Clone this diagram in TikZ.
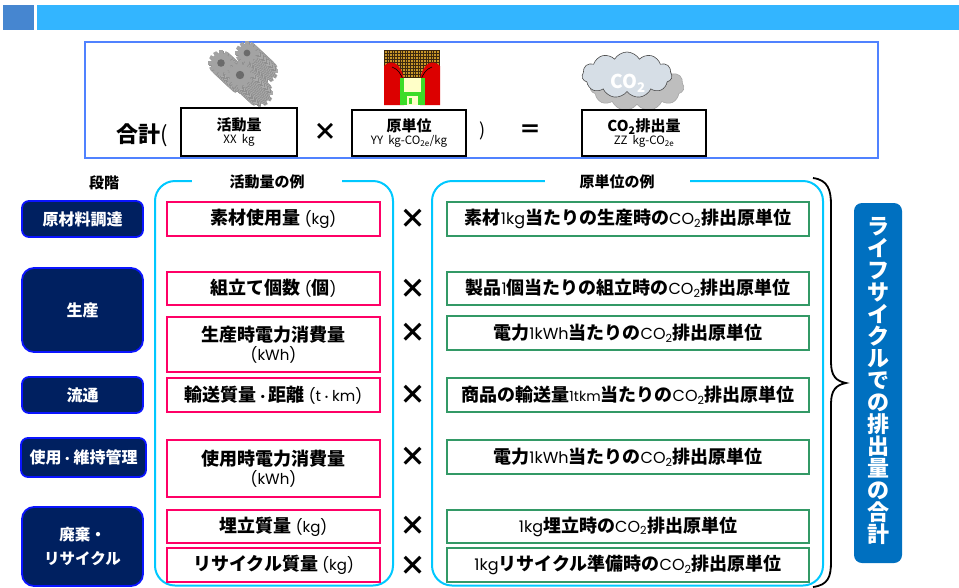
\documentclass[tikz,border=0pt]{standalone}
\usepackage{fontspec}
\setmainfont{Noto Sans CJK JP}
\newfontfamily\geo{Poppins}
\usetikzlibrary{shapes.symbols,arrows.meta}

\definecolor{barsq}{RGB}{70,134,208}
\definecolor{barlong}{RGB}{51,181,255}
\definecolor{frameblue}{RGB}{80,130,255}
\definecolor{navy}{RGB}{0,32,96}
\definecolor{stageedge}{RGB}{10,20,255}
\definecolor{pinkc}{RGB}{255,0,102}
\definecolor{greenc}{RGB}{51,153,102}
\definecolor{cyanc}{RGB}{0,200,255}
\definecolor{lifeblue}{RGB}{0,112,192}
\definecolor{diskred}{RGB}{220,0,0}
\definecolor{diskgreen}{RGB}{60,220,40}
\definecolor{diskpaper}{RGB}{255,255,200}
\definecolor{bits}{RGB}{200,150,40}
\definecolor{bitsbg}{RGB}{60,40,15}
\definecolor{cloudfront}{RGB}{214,222,230}
\definecolor{cloudback}{RGB}{190,190,190}

\newcommand{\lat}{\mdseries\geo}
\newcommand{\sz}[1]{\fontsize{#1}{#1}\selectfont}

% a gear drawn as a stack of toothed discs, giving a ridged solid look
\newcommand{\cogwheel}[3]{%
  \begin{scope}[shift={(#1,#2)}]
    \foreach \k in {26,...,1} {
      \ifodd\k\def\gcol{black!44}\else\def\gcol{black!33}\fi
      \begin{scope}[shift={(\k*0.75,\k*0.7)}]
        \fill[\gcol] (0,0) circle (#3);
        \foreach \a in {0,30,...,330}
          \fill[\gcol,rotate=\a] (-1.8,#3-1) rectangle (1.8,#3+2.6);
      \end{scope}
    }
    \fill[black!36] (0,0) circle (#3);
    \foreach \a in {0,30,...,330}
      \fill[black!36,rotate=\a] (-1.8,#3-1) rectangle (1.8,#3+2.6);
    \fill[black!58] (0,0) circle (#3*0.38);
  \end{scope}}

\begin{document}
\begin{tikzpicture}[x=1pt,y=-1pt,
  stage/.style={fill=navy, draw=stageedge, line width=1.8pt, rounded corners=7pt,
    text=white, font=\bfseries\sz{16}, align=center, inner sep=0pt},
  actbox/.style={draw=pinkc, line width=2.3pt, fill=white, minimum width=213pt,
    align=center, inner sep=0pt, font=\bfseries\sz{18}},
  unitbox/.style={draw=greenc, line width=2.3pt, fill=white, minimum width=362pt,
    inner sep=0pt, font=\bfseries\sz{18}},
  times/.style={font=\bfseries\sz{27}, inner sep=0pt},
  header/.style={fill=white, font=\bfseries\sz{15}, inner sep=0pt, minimum height=12pt},
  calcbox/.style={draw=black, line width=2pt, fill=white, align=center, inner sep=0pt},
  groupframe/.style={draw=cyanc, line width=2pt, rounded corners=20pt}
]
\useasboundingbox (0,0) rectangle (959,587);

% title bar
\fill[barsq] (3,5) rectangle (34,30);
\fill[barlong] (37,5) rectangle (959,30);

% formula panel
\draw[frameblue, line width=1.8pt] (85,42) rectangle (878,158);

% gears
\cogwheel{247}{53}{9}
\cogwheel{221}{63}{10}
\cogwheel{240}{75}{11}

% disk icon with data streaming in
\fill[bitsbg] (384,50) rectangle (440,105);
\foreach \yy in {52,55,...,82}
  \draw[bits, line width=1.2pt, dash pattern=on 1.6pt off 1pt] (385,\yy) -- (439,\yy);
\fill[diskred] (384,105) -- (384,66) .. controls (391,59) and (401,62) .. (404,80) -- (404,105) -- cycle;
\fill[diskred] (440,105) -- (440,66) .. controls (433,59) and (423,62) .. (420,80) -- (420,105) -- cycle;
\draw[line width=0.6pt, -{Stealth[length=2.5pt]}] (392,67) .. controls (398,69) and (401,74) .. (404,82);
\draw[line width=0.6pt, -{Stealth[length=2.5pt]}] (432,67) .. controls (426,69) and (423,74) .. (420,82);
\fill[diskgreen] (400,78) rectangle (425,105);
\fill[diskpaper] (404,78) rectangle (421,92);
\fill[diskpaper] (407,96) rectangle (418,105);
\fill[diskgreen] (409,97.5) rectangle (412,104);

% CO2 cloud
\node[cloud, cloud puffs=11, cloud puff arc=120, aspect=2, minimum width=94pt,
  minimum height=50pt, fill=cloudback, draw=black!35, line width=0.6pt] (cloudb) at (637,86) {};
\node[cloud, cloud puffs=11, cloud puff arc=120, aspect=2, minimum width=90pt,
  minimum height=46pt, fill=cloudfront, draw=black!70, line width=0.6pt] (cloudf) at (627,75) {};
\node[text=white, font=\bfseries\sz{19}] (co2) at (628,83) {CO\textsubscript{2}};

% formula
\node[anchor=west, inner sep=0pt] (total) at (116,135) {{\bfseries\sz{22}合計}{\sz{22}(}};
\node[calcbox, minimum width=116pt, minimum height=48pt] (act) at (239,132)
  {{\bfseries\sz{15}活動量}\\[1pt]{\sz{11.5}XX\ \ kg}};
\node[font=\bfseries\sz{24}, inner sep=0pt] (mul) at (325,132) {×};
\node[calcbox, minimum width=114pt, minimum height=46pt] (unit) at (409,133)
  {{\bfseries\sz{15}原単位}\\[1pt]{\sz{11.5}YY\ \ kg-CO\textsubscript{2e}/kg}};
\node[font=\sz{18}, inner sep=0pt] (close) at (483,131) {)};
\node[font=\bfseries\sz{22}, inner sep=0pt] (eq) at (530,131) {＝};
\node[calcbox, minimum width=124pt, minimum height=46pt] (emis) at (644,133)
  {{\bfseries\sz{15}CO\textsubscript{2}排出量}\\[1pt]{\sz{11.5}ZZ\ \ kg-CO\textsubscript{2e}}};

% group frames
\draw[groupframe] (155,181) rectangle (393,585.5);
\draw[groupframe] (432,181) rectangle (823,585.5);
\node[font=\bfseries\sz{15}, inner sep=0pt] (hstage) at (104,183) {段階};
\node[header, minimum width=150pt] (hact) at (267,182) {活動量の例};
\node[header, minimum width=145pt] (hunit) at (617,182) {原単位の例};

% brace gathering all stages
\draw[line width=1.8pt] (813,178) .. controls (828,180) and (831,190) .. (831,205)
  -- (831,362) .. controls (831,376) and (836,381) .. (846,383)
  .. controls (836,385) and (831,390) .. (831,404)
  -- (831,562) .. controls (831,577) and (828,585) .. (813,587);

% life-cycle total
\node[fill=lifeblue, rounded corners=8pt, minimum width=48pt, minimum height=360pt,
  inner sep=0pt] (life) at (878,383) {};
\node[text=white, font=\bfseries\sz{22}, align=center, inner sep=0pt] (lifetext) at (878,380.5)
  {\fontsize{22}{24.4}\selectfont ラ\\イ\\フ\\サ\\イ\\ク\\ル\\で\\の\\排\\出\\量\\の\\合\\計};

% stages
\node[stage, minimum width=121pt, minimum height=36pt] (s1) at (82.5,219) {原材料調達};
\node[stage, rounded corners=12pt, minimum width=121pt, minimum height=84pt] (s2) at (82.5,310) {生産};
\node[stage, minimum width=121pt, minimum height=36pt] (s3) at (82.5,395) {流通};
\node[stage, minimum width=125pt, minimum height=39pt] (s4) at (83.5,457.5) {使用{\sz{12}・}維持管理};
\node[stage, rounded corners=12pt, minimum width=121pt, minimum height=79pt, font=\bfseries\sz{15.5}] (s5) at (82.5,546.5) {廃棄・\\[8pt]リサイクル};

% activity examples
\node[actbox, minimum height=34pt] (a1) at (273.5,219) {素材使用量 {\lat\sz{15}(kg)}};
\node[actbox, minimum height=33pt] (a2) at (273.5,288.5) {組立て個数 {\lat\sz{15}(}個{\lat\sz{15})}};
\node[actbox, minimum height=55pt] (a3) at (273.5,344.5) {生産時電力消費量\\[1pt]{\lat\sz{15}(kWh)}};
\node[actbox, minimum height=34pt] (a4) at (273.5,395) {輸送質量{\sz{12}・}距離 {\lat\sz{15}(t{\rmfamily\sz{11}・}km)}};
\node[actbox, minimum height=57pt] (a5) at (273.5,468.5) {使用時電力消費量\\[1pt]{\lat\sz{15}(kWh)}};
\node[actbox, minimum height=33pt] (a6) at (273.5,526.5) {埋立質量 {\lat\sz{15}(kg)}};
\node[actbox, minimum height=34pt] (a7) at (273.5,565) {リサイクル質量 {\lat\sz{15}(kg)}};

% multiplication signs
\node[times] (x1) at (413,219) {×};
\node[times] (x2) at (413,289) {×};
\node[times] (x3) at (413,333) {×};
\node[times] (x4) at (413,395) {×};
\node[times] (x5) at (413,457) {×};
\node[times] (x6) at (413,526) {×};
\node[times] (x7) at (413,566) {×};

% emission factor examples
\node[unitbox, minimum height=34pt] (u1) at (628,219) {素材{\lat\sz{16}1kg}当たりの生産時の{\lat\sz{16}CO\textsubscript{2}}排出原単位};
\node[unitbox, minimum height=33pt] (u2) at (628,288.5) {製品{\lat\sz{16}1}個当たりの組立時の{\lat\sz{16}CO\textsubscript{2}}排出原単位};
\node[unitbox, minimum height=34pt] (u3) at (628,333) {電力{\lat\sz{16}1kWh}当たりの{\lat\sz{16}CO\textsubscript{2}}排出原単位};
\node[unitbox, minimum height=34pt] (u4) at (628,395) {商品の輸送量{\lat\sz{14}1tkm}当たりの{\lat\sz{16}CO\textsubscript{2}}排出原単位};
\node[unitbox, minimum height=34pt] (u5) at (628,457) {電力{\lat\sz{16}1kWh}当たりの{\lat\sz{16}CO\textsubscript{2}}排出原単位};
\node[unitbox, minimum height=33pt] (u6) at (628,526.5) {{\lat\sz{16}1kg}埋立時の{\lat\sz{16}CO\textsubscript{2}}排出原単位};
\node[unitbox, minimum height=34pt] (u7) at (628,565) {{\lat\sz{16}1kg}リサイクル準備時の{\lat\sz{16}CO\textsubscript{2}}排出原単位};
\end{tikzpicture}
\end{document}
